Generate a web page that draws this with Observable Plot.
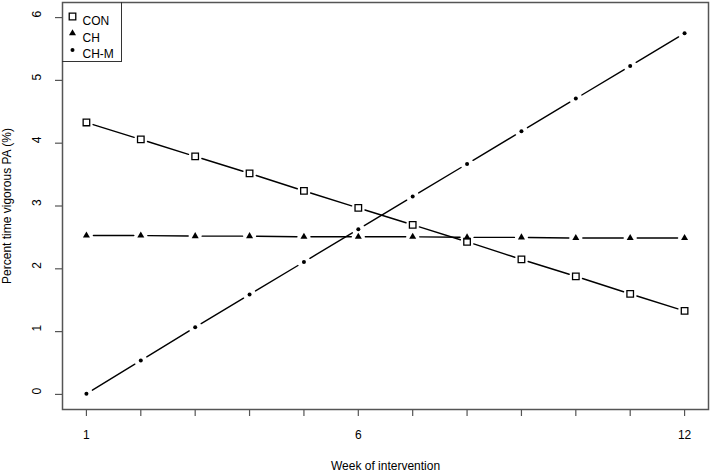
<!DOCTYPE html>
<html><head><meta charset="utf-8">
<script src="https://cdn.jsdelivr.net/npm/d3@7"></script>
<script src="https://cdn.jsdelivr.net/npm/@observablehq/plot@0.6"></script>
<style>
body{margin:0;background:#fff;font-family:"Liberation Sans",Arial,sans-serif;}
#wrap{position:relative;width:711px;height:473px;}
</style></head>
<body><div id="wrap"></div>
<script>
const weeks = [1,2,3,4,5,6,7,8,9,10,11,12];
const con  = [4.33,4.06,3.79,3.52,3.24,2.97,2.70,2.43,2.15,1.88,1.60,1.33];
const ch   = [2.53,2.53,2.52,2.52,2.51,2.51,2.51,2.50,2.50,2.49,2.49,2.49];
const chm  = [0.01,0.54,1.07,1.59,2.11,2.63,3.15,3.67,4.19,4.71,5.23,5.75];
const seriesNames = ["CON","CH","CH-M"];
const yTicks = [0,1,2,3,4,5,6];
const xTickLabels = [1,6,12];

const seriesVals = [con, ch, chm];
const points = seriesNames.flatMap((s,i)=>weeks.map((w,j)=>({series:s, week:w, v:seriesVals[i][j]})));
const segs = seriesNames.flatMap((s,i)=>weeks.slice(0,-1).map((w,j)=>({series:s, x1:w, y1:seriesVals[i][j], x2:weeks[j+1], y2:seriesVals[i][j+1]})));

const style = {
  "CON": {symbol:"square", r:3.7, fill:"#fff", stroke:"#000", strokeWidth:1.3},
  "CH": {symbol:"triangle", r:2.6, fill:"#000", stroke:"none"},
  "CH-M": {symbol:"circle", r:2, fill:"#000", stroke:"none"}
};

const legendMarks = seriesNames.flatMap((s,i)=>[
  Plot.dot([s],{frameAnchor:"top-left", dx:10, dy:14+i*16.7, ...style[s]}),
  Plot.text([s],{frameAnchor:"top-left", dx:20, dy:14+i*16.7, text:d=>d, textAnchor:"start", fill:"#000", fontSize:12})
]);

const chart = Plot.plot({
  width:711, height:473,
  marginLeft:62, marginTop:2, marginRight:3, marginBottom:64,
  style:{fontFamily:"Liberation Sans, Arial, sans-serif", fontSize:"12px", color:"#000", background:"#fff"},
  x:{domain:[0.56,12.44]},
  y:{domain:[-0.24,6.24]},
  marks:[
    Plot.arrow(segs,{x1:"x1",y1:"y1",x2:"x2",y2:"y2",headLength:0,insetStart:7,insetEnd:7,bend:0,stroke:"#000",strokeWidth:1.4}),
    ...seriesNames.map(s=>Plot.dot(points.filter(d=>d.series===s),{x:"week",y:"v",...style[s]})),
    Plot.axisX({ticks:weeks, tickSize:7, tickPadding:14, tickFormat:d=>xTickLabels.includes(d)?String(d):"", stroke:"#555", strokeWidth:1.2, label:"Week of intervention", labelAnchor:"center", labelArrow:"none", labelOffset:60, fontSize:12}),
    Plot.axisY({ticks:yTicks, tickSize:7, tickFormat:()=>"", stroke:"#555", strokeWidth:1.2, label:"Percent time vigorous PA (%)", labelAnchor:"center", labelArrow:"none", labelOffset:60, fontSize:12}),
    Plot.text(yTicks,{y:d=>d, frameAnchor:"left", dx:-25, rotate:-90, text:d=>String(d), fill:"#000", fontSize:12}),
    Plot.frame({stroke:"#555", strokeWidth:1.5}),
    ...legendMarks
  ]
});
document.getElementById("wrap").appendChild(chart);
const box = document.createElement("div");
box.style.cssText="position:absolute;left:62px;top:2px;width:60px;height:60px;border:1px solid #333;border-left:none;border-top:none;box-sizing:border-box;pointer-events:none;";
document.getElementById("wrap").appendChild(box);
</script></body></html>
